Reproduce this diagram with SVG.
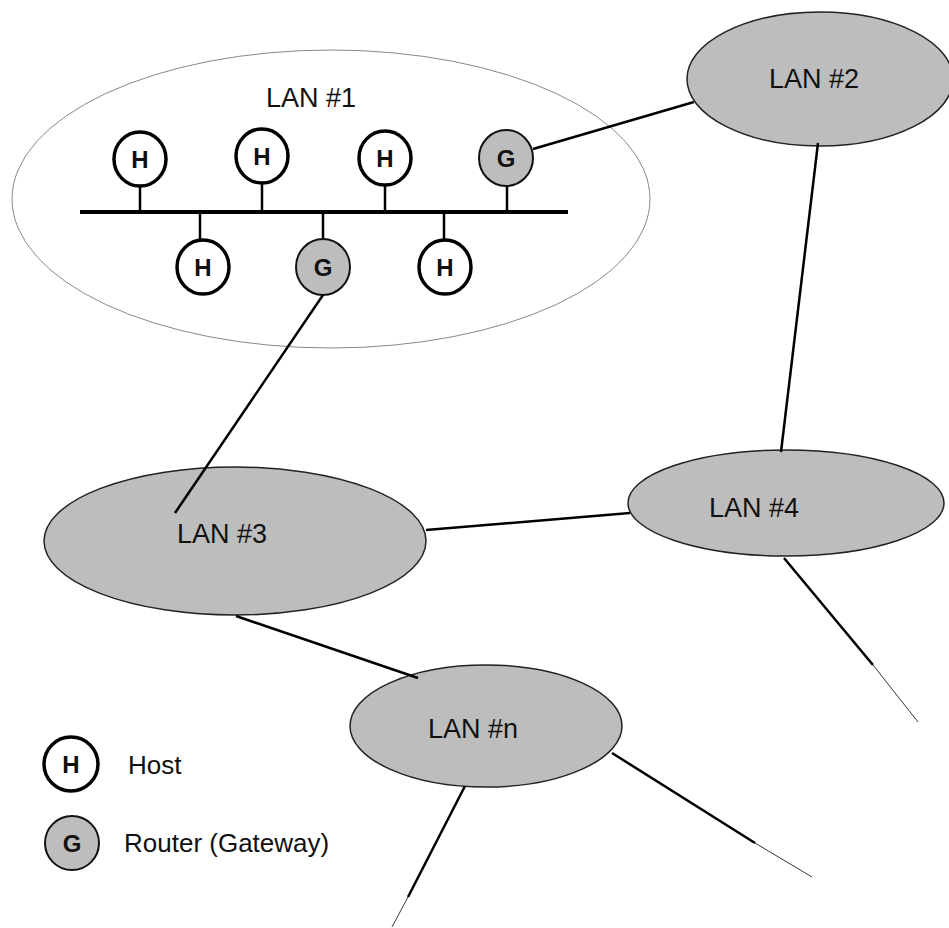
<svg xmlns="http://www.w3.org/2000/svg" width="949" height="928" viewBox="0 0 949 928">
<style>
.lan{fill:#bdbdbd;stroke:#222;stroke-width:1.5}
.lbl{font-family:"Liberation Sans",Arial,sans-serif;font-size:27px;fill:#111;text-anchor:middle}
.h{fill:#fff;stroke:#000;stroke-width:3.5}
.g{fill:#bdbdbd;stroke:#111;stroke-width:2}
.ltr{font-family:"Liberation Sans",Arial,sans-serif;font-size:24px;font-weight:bold;fill:#111;text-anchor:middle}
.leg{font-family:"Liberation Sans",Arial,sans-serif;font-size:26px;fill:#111}
.ln{stroke:#000;stroke-width:2.5;fill:none}
.thin{stroke:#000;stroke-width:0.8;fill:none}
.stem{stroke:#000;stroke-width:2.5}
</style>
<rect width="949" height="928" fill="#fff"/>
<g id="lan1">
<ellipse cx="331" cy="199" rx="319" ry="149" fill="none" stroke="#888" stroke-width="1"/>
<text class="lbl" x="311" y="107">LAN #1</text>
<line x1="80" y1="212" x2="568" y2="212" stroke="#000" stroke-width="4"/>
<line class="stem" x1="140" y1="186" x2="140" y2="212"/>
<line class="stem" x1="262" y1="184" x2="262" y2="212"/>
<line class="stem" x1="385" y1="186" x2="385" y2="212"/>
<line class="stem" x1="507" y1="186" x2="507" y2="212"/>
<line class="stem" x1="200" y1="212" x2="200" y2="240"/>
<line class="stem" x1="323" y1="212" x2="323" y2="240"/>
<line class="stem" x1="444" y1="212" x2="444" y2="240"/>
</g>
<g id="h1"><ellipse class="h" cx="140" cy="159" rx="26" ry="27"/><text class="ltr" x="140" y="168">H</text></g>
<g id="h2"><ellipse class="h" cx="262" cy="156" rx="26" ry="27"/><text class="ltr" x="262" y="165">H</text></g>
<g id="h3"><ellipse class="h" cx="385" cy="158" rx="26" ry="27"/><text class="ltr" x="385" y="167">H</text></g>
<g id="g1"><ellipse class="g" cx="506" cy="158" rx="27" ry="28"/><text class="ltr" x="506" y="167">G</text></g>
<g id="h4"><ellipse class="h" cx="203" cy="267" rx="26" ry="27"/><text class="ltr" x="203" y="276">H</text></g>
<g id="g2"><ellipse class="g" cx="323" cy="267" rx="27" ry="28"/><text class="ltr" x="323" y="276">G</text></g>
<g id="h5"><ellipse class="h" cx="445" cy="267" rx="26" ry="27"/><text class="ltr" x="445" y="276">H</text></g>
<g id="lan2"><ellipse class="lan" cx="820" cy="79" rx="133" ry="67"/><text class="lbl" x="814" y="88">LAN #2</text></g>
<g id="lan3"><ellipse class="lan" cx="235" cy="541" rx="191" ry="74"/><text class="lbl" x="222" y="543">LAN #3</text></g>
<g id="lan4"><ellipse class="lan" cx="786" cy="503" rx="158" ry="53"/><text class="lbl" x="754" y="517">LAN #4</text></g>
<g id="lann"><ellipse class="lan" cx="486" cy="726" rx="136" ry="61"/><text class="lbl" x="473" y="738">LAN #n</text></g>
<g id="legend-host"><ellipse class="h" cx="71" cy="764" rx="27" ry="27"/><text class="ltr" x="71" y="773">H</text><text class="leg" x="128" y="774">Host</text></g>
<g id="legend-router"><ellipse class="g" cx="72" cy="843" rx="27" ry="27"/><text class="ltr" x="72" y="852">G</text><text class="leg" x="124" y="852">Router (Gateway)</text></g>
<g id="connectors">
<line class="ln" x1="533" y1="149" x2="694" y2="102"/>
<line class="ln" x1="818" y1="143" x2="781" y2="452"/>
<line class="ln" x1="323" y1="295" x2="175" y2="513"/>
<line class="ln" x1="426" y1="530" x2="630" y2="513"/>
<line class="ln" x1="236" y1="616" x2="418" y2="678"/>
<line class="ln" x1="784" y1="558" x2="873" y2="665"/>
<line class="thin" x1="873" y1="665" x2="918" y2="722"/>
<line class="ln" x1="465" y1="786" x2="408" y2="897"/>
<line class="thin" x1="408" y1="897" x2="392" y2="927"/>
<line class="ln" x1="612" y1="753" x2="755" y2="843"/>
<line class="thin" x1="755" y1="843" x2="812" y2="877"/>
</g>
</svg>
